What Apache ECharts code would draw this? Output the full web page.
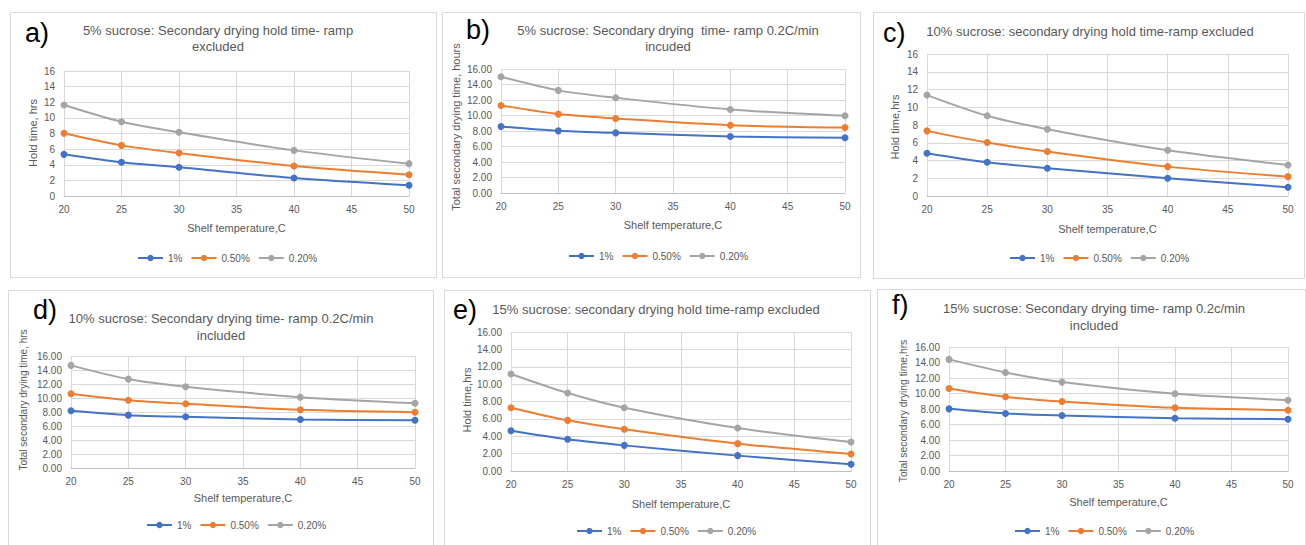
<!DOCTYPE html>
<html><head><meta charset="utf-8">
<script src="https://cdn.jsdelivr.net/npm/echarts@6/dist/echarts.min.js"></script>
<style>html,body{margin:0;padding:0;background:#fff}#c{width:1306px;height:545px}</style>
</head><body><div id="c"></div>
<script>
// ---- data ----
const temps = [20, 25, 30, 40, 50];
const seriesNames = ['1%', '0.50%', '0.20%'];
const yTicksMin = 0, yTicksMax = 16, yTickStep = 2;
const xTickStep = 5;

const a_1pct  = [5.33, 4.31, 3.67, 2.30, 1.37];
const a_05pct = [8.02, 6.48, 5.50, 3.84, 2.73];
const a_02pct = [11.65, 9.51, 8.15, 5.84, 4.14];

const b_1pct  = [8.58, 8.02, 7.76, 7.29, 7.12];
const b_05pct = [11.30, 10.18, 9.62, 8.75, 8.45];
const b_02pct = [15.00, 13.24, 12.29, 10.78, 9.96];

const c_1pct  = [4.82, 3.80, 3.13, 2.00, 0.98];
const c_05pct = [7.34, 6.02, 5.01, 3.31, 2.18];
const c_02pct = [11.37, 9.04, 7.53, 5.16, 3.50];

const d_1pct  = [8.17, 7.55, 7.31, 6.92, 6.83];
const d_05pct = [10.60, 9.69, 9.17, 8.31, 7.97];
const d_02pct = [14.66, 12.70, 11.60, 10.12, 9.26];

const e_1pct  = [4.64, 3.65, 2.95, 1.77, 0.77];
const e_05pct = [7.29, 5.83, 4.80, 3.15, 1.96];
const e_02pct = [11.17, 8.98, 7.29, 4.95, 3.34];

const f_1pct  = [8.02, 7.42, 7.16, 6.81, 6.68];
const f_05pct = [10.65, 9.57, 8.97, 8.15, 7.85];
const f_02pct = [14.40, 12.72, 11.47, 9.96, 9.14];

const panelLetters = ['a)', 'b)', 'c)', 'd)', 'e)', 'f)'];
const panelTitles = [
  ['5% sucrose: Secondary drying hold time- ramp', 'excluded'],
  ['5% sucrose: Secondary drying  time- ramp 0.2C/min', 'incuded'],
  ['10% sucrose: secondary drying hold time-ramp excluded'],
  ['10% sucrose: Secondary drying time- ramp 0.2C/min', 'included'],
  ['15% sucrose: secondary drying hold time-ramp excluded'],
  ['15% sucrose: Secondary drying time- ramp 0.2c/min', 'included']
];
const yNames = ['Hold time, hrs', 'Total secondary drying time, hours', 'Hold time,hrs',
  'Total secondary drying time, hrs', 'Hold time,hrs', 'Total secondary drying time,hrs'];
const xName = 'Shelf temperature,C';
const decimals = [0, 2, 0, 2, 2, 2];

const panelData = [
  [a_1pct, a_05pct, a_02pct], [b_1pct, b_05pct, b_02pct], [c_1pct, c_05pct, c_02pct],
  [d_1pct, d_05pct, d_02pct], [e_1pct, e_05pct, e_02pct], [f_1pct, f_05pct, f_02pct]
];

// ---- layout / style ----
const colors = ['#4472C4', '#ED7D31', '#A5A5A5'];
const FONT = '"Liberation Sans", Arial, sans-serif';
const layout = [
  {box:[10,12,426,265],  grid:[64,71,345,125],  letter:[25,33],  title:[218,30,46],   yName:[33,133,11],  xGap:26, legend:[137,253]},
  {box:[442,12,418,265], grid:[501,69,344,124], letter:[466,30], title:[668,30,46],   yName:[456,127,11], xGap:26, legend:[568,251]},
  {box:[873,12,431,266], grid:[927,54,361,142], letter:[883,33], title:[1090,31],     yName:[895,127,11], xGap:27, legend:[1009,253]},
  {box:[8,290,425,260],  grid:[71,356,344,112], letter:[33,310], title:[221,318,335], yName:[23,400,10],  xGap:24, legend:[146,520]},
  {box:[444,290,426,260],grid:[511,332,340,139],letter:[453,310],title:[656,309],     yName:[467,400,11], xGap:27, legend:[576,526]},
  {box:[877,289,428,260],grid:[949,347,339,124],letter:[892,305],title:[1094,308,325],yName:[903,411,10.3], xGap:25, legend:[1014,526]}
];

const grids = [], xAxes = [], yAxes = [], series = [], legends = [], graphics = [];
layout.forEach((L, i) => {
  graphics.push({type:'rect', shape:{x:L.box[0]+0.5, y:L.box[1]+0.5, width:L.box[2], height:L.box[3]},
    style:{fill:'#fff', stroke:'#d9d9d9', lineWidth:1}, z:-10});
  graphics.push({type:'text', x:L.letter[0], y:L.letter[1],
    style:{text:panelLetters[i], fill:'#000', font:'27px ' + FONT, textAlign:'left', textVerticalAlign:'middle'}});
  panelTitles[i].forEach((t, k) => {
    graphics.push({type:'text', x:L.title[0], y:L.title[1 + k],
      style:{text:t, fill:'#595959', font:'13px ' + FONT, textAlign:'center', textVerticalAlign:'middle'}});
  });
  // y-axis title
  graphics.push({type:'text', x:L.yName[0], y:L.yName[1], rotation:Math.PI / 2,
    style:{text:yNames[i], fill:'#595959', font:L.yName[2] + 'px ' + FONT, textAlign:'center', textVerticalAlign:'middle'}});
  grids.push({left:L.grid[0], top:L.grid[1], width:L.grid[2], height:L.grid[3], containLabel:false});
  xAxes.push({type:'value', gridIndex:i, min:temps[0], max:temps[temps.length-1], interval:xTickStep,
    name:xName, nameLocation:'middle', nameGap:L.xGap,
    nameTextStyle:{color:'#595959', fontSize:11, fontFamily:FONT},
    axisLine:{show:true, lineStyle:{color:'#bfbfbf', width:1}}, axisTick:{show:false},
    axisLabel:{color:'#595959', fontSize:10, fontFamily:FONT, margin:8},
    splitLine:{show:true, lineStyle:{color:'#d9d9d9', width:1}}});
  const dec = decimals[i];
  yAxes.push({type:'value', gridIndex:i, min:yTicksMin, max:yTicksMax, interval:yTickStep,
    axisLine:{show:false}, axisTick:{show:false},
    axisLabel:{color:'#595959', fontSize:10, fontFamily:FONT, margin:9, formatter:v => v.toFixed(dec)},
    splitLine:{show:true, lineStyle:{color:'#d9d9d9', width:1}}});
  panelData[i].forEach((vals, s) => {
    series.push({type:'line', name:seriesNames[s], xAxisIndex:i, yAxisIndex:i,
      data:temps.map((t, j) => [t, vals[j]]), smooth:0.3, symbol:'circle', symbolSize:7,
      itemStyle:{color:colors[s]}, lineStyle:{color:colors[s], width:2}, z:2 + s});
  });
  legends.push({data:seriesNames, left:L.legend[0], top:L.legend[1], orient:'horizontal', padding:0,
    itemWidth:25, itemHeight:8, itemGap:8, selectedMode:false,
    textStyle:{color:'#595959', fontSize:10, fontFamily:FONT}});
});

const chart = echarts.init(document.getElementById('c'), null, {renderer:'svg', width:1306, height:545});
chart.setOption({
  animation:false, backgroundColor:'#fff', color:colors,
  grid:grids, xAxis:xAxes, yAxis:yAxes, series:series, legend:legends, graphic:graphics
});
</script></body></html>
